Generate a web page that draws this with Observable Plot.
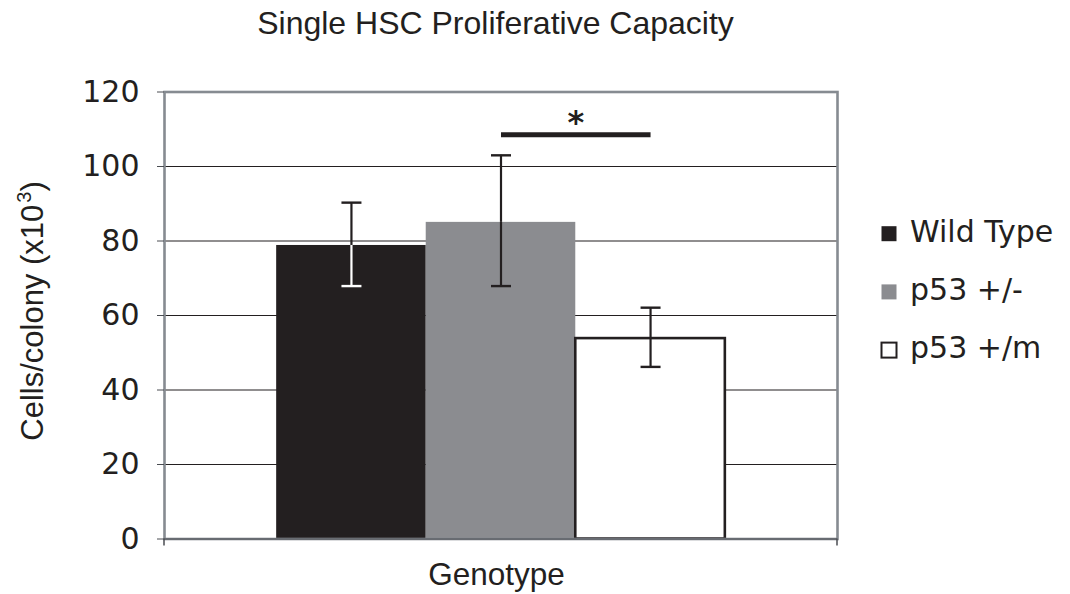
<!DOCTYPE html>
<html><head><meta charset="utf-8">
<script src="https://cdn.jsdelivr.net/npm/d3@7"></script>
<script src="https://cdn.jsdelivr.net/npm/@observablehq/plot@0.6"></script>
<style>
body{margin:0;background:#fff;}
#wrap{width:1070px;height:594px;}
</style></head><body><div id="wrap"></div>
<script>
// ---- data ----
const genotypes = ["Wild Type", "p53 +/-", "p53 +/m"];
const means = [78.8, 85.0, 53.8];
const errLow = [67.9, 67.9, 46.2];
const errHigh = [90.3, 103.0, 62.1];
const sigPair = ["p53 +/-", "p53 +/m"];
const sigY = 108.5;
const yTicks = [0, 20, 40, 60, 80, 100, 120];
const title = "Single HSC Proliferative Capacity";
const xLabel = "Genotype";

// ---- styles ----
const INK = "#231f20";
const fills = ["#231f20", "#8b8c90", "#ffffff"];
const strokes = ["none", "none", INK];
const lowerColors = fills.map(f => f === INK ? "#ffffff" : INK);

const rows = genotypes.map((g, i) => ({g, mean: means[i], low: errLow[i], high: errHigh[i], i}));
const sigRows = sigPair.map(g => ({g, y: sigY}));

const capSymbol = {draw(ctx, size) { const r = Math.sqrt(size / Math.PI); ctx.moveTo(-r, 0); ctx.lineTo(r, 0); }};

const W = 1070, H = 594;
const xOpts = {type: "band", domain: genotypes, paddingInner: 0, paddingOuter: 0.75, round: false, axis: null};
const base = {width: W, height: H, marginLeft: 164, marginRight: 233, marginTop: 91.5, marginBottom: 55.5};

const probe = Plot.plot({...base, x: xOpts, y: {domain: [0, 120]}, marks: [Plot.barY(rows, {x: "g", y: "mean"})]});
const bw = probe.scale("x").bandwidth;

const plot = Plot.plot({
  ...base,
  style: {background: "#fff", color: INK, fontFamily: "DejaVu Sans"},
  x: xOpts,
  y: {domain: [0, 120], axis: null},
  marks: [
    Plot.gridY(yTicks.filter(v => v > 0 && v < 120), {stroke: INK, strokeOpacity: 1, strokeWidth: 1.2}),
    Plot.barY(rows, {x: "g", y: "mean", fill: d => fills[d.i], stroke: d => strokes[d.i], strokeWidth: 2.6}),
    Plot.frame({stroke: "#868b91", strokeWidth: 2.6}),
    Plot.ruleY([0], {stroke: "#4a4d52", strokeWidth: 1}),
    Plot.axisY({ticks: yTicks, tickSize: 7, tickPadding: 18, fontSize: 30, fontFamily: "DejaVu Sans", fill: INK, stroke: "#4a4d52", label: null}),
    Plot.ruleX(rows, {x: "g", y1: "low", y2: "mean", stroke: d => lowerColors[d.i], strokeWidth: 2.2}),
    Plot.ruleX(rows, {x: "g", y1: "mean", y2: "high", stroke: INK, strokeWidth: 2.2}),
    Plot.dot(rows, {x: "g", y: "high", symbol: capSymbol, r: 10, stroke: INK, strokeWidth: 2.4}),
    Plot.dot(rows, {x: "g", y: "low", symbol: capSymbol, r: 10, stroke: d => lowerColors[d.i], strokeWidth: 2.4}),
    Plot.line(sigRows, {x: "g", y: "y", stroke: INK, strokeWidth: 5, strokeLinecap: "butt"}),
    Plot.text([sigRows[1]], {x: "g", y: "y", text: () => "*", dx: -bw / 2, dy: -12, fontSize: 32, fontWeight: "bold", fontFamily: "DejaVu Sans", fill: INK})
  ]
});

const svg = d3.select(plot);
const frameL = 164, frameR = W - 233, frameB = H - 55.5;
// category-axis end ticks
[frameL, frameR].forEach(x => svg.append("line").attr("x1", x).attr("x2", x).attr("y1", frameB).attr("y2", frameB + 7).attr("stroke", "#4a4d52").attr("stroke-width", 1.5));

// title
svg.append("text").attr("x", 495.5).attr("y", 34).attr("text-anchor", "middle")
  .attr("font-family", "Liberation Sans, Arial, sans-serif").attr("font-size", 32).attr("fill", INK).text(title);
// x label
svg.append("text").attr("x", 496.5).attr("y", 585).attr("text-anchor", "middle")
  .attr("font-family", "Liberation Sans, Arial, sans-serif").attr("font-size", 31.5).attr("fill", INK).text(xLabel);
// y label with superscript
const yl = svg.append("text").attr("transform", "translate(43,311) rotate(-90)").attr("text-anchor", "middle")
  .attr("font-family", "Liberation Sans, Arial, sans-serif").attr("font-size", 31).attr("fill", INK);
yl.append("tspan").text("Cells/colony (x10");
yl.append("tspan").attr("font-size", 20).attr("dy", -12).attr("dx", 2).text("3");
yl.append("tspan").attr("dy", 12).text(")");

// legend
genotypes.forEach((g, i) => {
  const base = 241.7 + i * 58.2;
  svg.append("rect").attr("x", 881.5).attr("y", base - 15.5).attr("width", 15).attr("height", 15)
    .attr("fill", fills[i]).attr("stroke", fills[i] === "#ffffff" ? INK : "none").attr("stroke-width", 2);
  svg.append("text").attr("x", 910).attr("y", base).attr("text-anchor", "start")
    .attr("font-family", "DejaVu Sans").attr("font-size", 30).attr("fill", INK).text(g);
});

document.getElementById("wrap").appendChild(plot);
</script>
</body></html>
